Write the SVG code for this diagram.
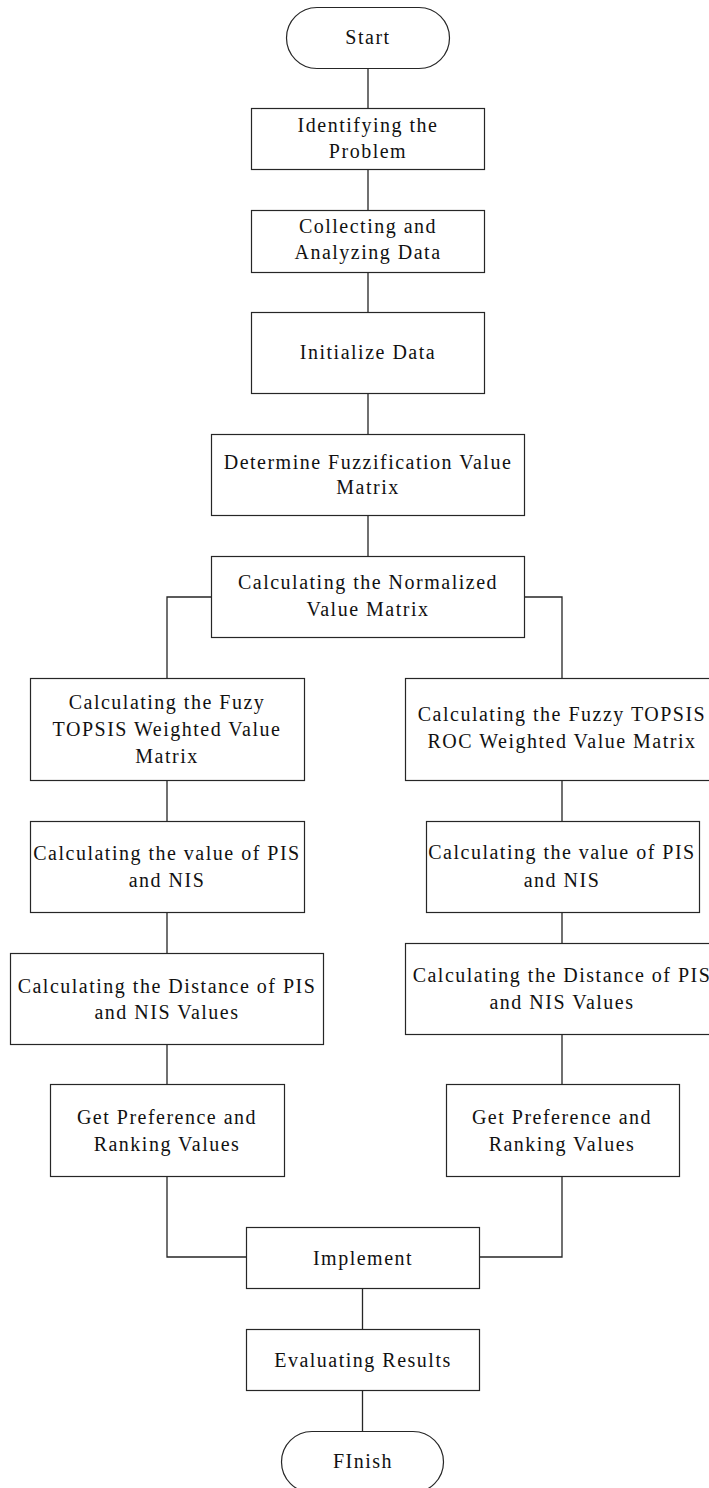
<svg xmlns="http://www.w3.org/2000/svg" width="709" height="1488" viewBox="0 0 709 1488">
<style>
.box{fill:#fff;stroke:#262626;stroke-width:1.2}
.ln{fill:none;stroke:#262626;stroke-width:1.3}
text{font-family:"Liberation Serif","Times New Roman",serif;font-size:20px;letter-spacing:1.5px;fill:#111;text-anchor:middle}
</style>
<rect width="709" height="1488" fill="#fff"/>
<g id="connectors">
<path class="ln" d="M368 68V108M368 169V210M368 272V312M368 393V434M368 515V556"/>
<path class="ln" d="M211 597H167V678M525 597H562V678"/>
<path class="ln" d="M167 780V821M167 912V953M167 1044V1084M167 1176V1257H246"/>
<path class="ln" d="M562 780V821M562 912V943M562 1034V1084M562 1176V1257H479"/>
<path class="ln" d="M362.5 1288V1329M362.5 1390V1431"/>
</g>
<g id="start"><rect class="box" x="286.5" y="7.5" width="163" height="61" rx="30.5" ry="30.5"/><text x="368" y="44">Start</text></g>
<g id="identify"><rect class="box" x="251.5" y="108.5" width="233" height="61"/><text x="368" y="132">Identifying the</text><text x="368" y="158">Problem</text></g>
<g id="collect"><rect class="box" x="251.5" y="210.5" width="233" height="62"/><text x="368" y="233">Collecting and</text><text x="368" y="259">Analyzing Data</text></g>
<g id="init"><rect class="box" x="251.5" y="312.5" width="233" height="81"/><text x="368" y="359">Initialize Data</text></g>
<g id="fuzzify"><rect class="box" x="211.5" y="434.5" width="313" height="81"/><text x="368" y="469">Determine Fuzzification Value</text><text x="368" y="494">Matrix</text></g>
<g id="normalize"><rect class="box" x="211.5" y="556.5" width="313" height="81"/><text x="368" y="589">Calculating the Normalized</text><text x="368" y="616">Value Matrix</text></g>
<g id="left-weighted"><rect class="box" x="30.5" y="678.5" width="274" height="102"/><text x="167" y="709">Calculating the Fuzy</text><text x="167" y="736">TOPSIS Weighted Value</text><text x="167" y="763">Matrix</text></g>
<g id="left-pis"><rect class="box" x="30.5" y="821.5" width="274" height="91"/><text x="167" y="860">Calculating the value of PIS</text><text x="167" y="887">and NIS</text></g>
<g id="left-distance"><rect class="box" x="10.5" y="953.5" width="313" height="91"/><text x="167" y="993">Calculating the Distance of PIS</text><text x="167" y="1019">and NIS Values</text></g>
<g id="left-pref"><rect class="box" x="50.5" y="1084.5" width="234" height="92"/><text x="167" y="1124">Get Preference and</text><text x="167" y="1151">Ranking Values</text></g>
<g id="right-weighted"><rect class="box" x="405.5" y="678.5" width="314" height="102"/><text x="562" y="721">Calculating the Fuzzy TOPSIS</text><text x="562" y="748">ROC Weighted Value Matrix</text></g>
<g id="right-pis"><rect class="box" x="426.5" y="821.5" width="273" height="91"/><text x="562" y="859">Calculating the value of PIS</text><text x="562" y="887">and NIS</text></g>
<g id="right-distance"><rect class="box" x="405.5" y="943.5" width="314" height="91"/><text x="562" y="982">Calculating the Distance of PIS</text><text x="562" y="1009">and NIS Values</text></g>
<g id="right-pref"><rect class="box" x="446.5" y="1084.5" width="233" height="92"/><text x="562" y="1124">Get Preference and</text><text x="562" y="1151">Ranking Values</text></g>
<g id="implement"><rect class="box" x="246.5" y="1227.5" width="233" height="61"/><text x="363" y="1265">Implement</text></g>
<g id="evaluate"><rect class="box" x="246.5" y="1329.5" width="233" height="61"/><text x="363" y="1367">Evaluating Results</text></g>
<g id="finish"><rect class="box" x="281.5" y="1431.5" width="162" height="61" rx="30.5" ry="30.5"/><text x="363" y="1468">FInish</text></g>
</svg>
